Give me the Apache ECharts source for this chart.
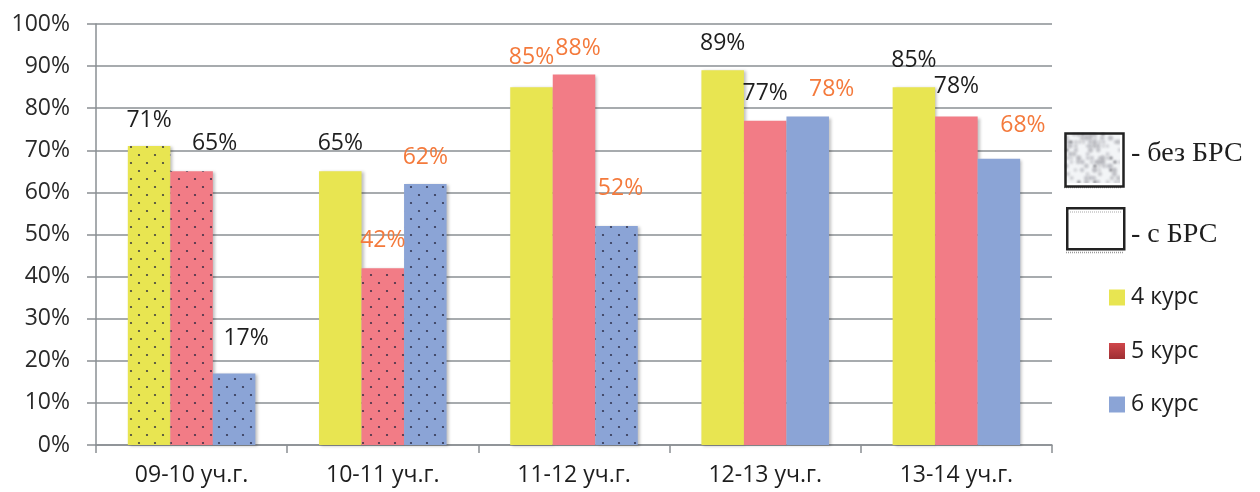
<!DOCTYPE html>
<html>
<head>
<meta charset="utf-8">
<script src="https://cdn.jsdelivr.net/npm/echarts@6/dist/echarts.min.js"></script>
<style>
html,body{margin:0;padding:0;background:#fff;}
#chart{width:1260px;height:492px;}
</style>
</head>
<body>
<div id="chart"></div>
<script>
// ---- data ----
var categories = ['09-10 уч.г.', '10-11 уч.г.', '11-12 уч.г.', '12-13 уч.г.', '13-14 уч.г.'];
var seriesNames = ['4 курс', '5 курс', '6 курс'];
var course4 = [71, 65, 85, 89, 85];
var course5 = [65, 42, 88, 77, 78];
var course6 = [17, 62, 52, 78, 68];
// 1 = dotted pattern ("без БРС")
var dotted4 = [1, 0, 0, 0, 0];
var dotted5 = [1, 1, 0, 0, 0];
var dotted6 = [1, 1, 1, 0, 0];
// 1 = orange label
var orange4 = [0, 0, 1, 0, 0];
var orange5 = [0, 1, 1, 0, 0];
var orange6 = [0, 1, 1, 1, 1];
var yTicks = [0, 10, 20, 30, 40, 50, 60, 70, 80, 90, 100];

// ---- styles ----
var FONT = 'Open Sans';
var barColors = ['#E8E551', '#F27C86', '#8BA4D6'];
var labelShift4 = [[0, 0], [0, -2], [0, -4], [0, -1], [0, -1]];
var labelShift5 = [[23, -2], [0, -2], [4, -1], [0, -2], [0, -5]];
var labelShift6 = [[12, -9], [0, -1], [4, -12], [24, -2], [24, -8]];

// dotted fill: staggered dots, 16px period in a row, rows 8px apart
function dotPattern(bg) {
  var c = document.createElement('canvas');
  c.width = 16; c.height = 16;
  var ctx = c.getContext('2d');
  ctx.fillStyle = bg;
  ctx.fillRect(0, 0, 16, 16);
  ctx.fillStyle = 'rgba(35,35,60,0.85)';
  ctx.beginPath(); ctx.arc(3, 3, 1.1, 0, Math.PI * 2); ctx.fill();
  ctx.beginPath(); ctx.arc(11, 11, 1.1, 0, Math.PI * 2); ctx.fill();
  return { image: c, repeat: 'repeat' };
}

function buildData(values, dotted, orange, shifts, idx) {
  return values.map(function (v, i) {
    var item = {
      value: v,
      label: {
        color: orange[i] ? '#F47A3C' : '#1E1E1E',
        offset: shifts[i]
      }
    };
    if (dotted[i]) item.itemStyle = { color: dotPattern(barColors[idx]) };
    return item;
  });
}

function makeSeries(name, idx, values, dotted, orange, shifts) {
  return {
    name: name,
    type: 'bar',
    barGap: '0%',
    barCategoryGap: '33.3%',
    itemStyle: {
      color: barColors[idx],
      shadowColor: 'rgba(0,0,0,0.25)',
      shadowBlur: 3,
      shadowOffsetX: 2,
      shadowOffsetY: 1
    },
    label: {
      show: true,
      position: 'top',
      distance: 14,
      formatter: '{c}%',
      fontFamily: FONT,
      fontSize: 23
    },
    data: buildData(values, dotted, orange, shifts, idx)
  };
}

// decorative texture for the "без БРС" legend box
function textureURL() {
  var c = document.createElement('canvas');
  c.width = 56; c.height = 51;
  var ctx = c.getContext('2d');
  ctx.fillStyle = '#f3f5f7';
  ctx.fillRect(0, 0, 56, 51);
  ctx.filter = 'blur(1.2px)';
  for (var y = 0; y < 51; y += 4) {
    for (var x = 0; x < 56; x += 4) {
      var h = Math.abs(Math.sin(x * 12.9898 + y * 78.233) * 43758.5453) % 1;
      if (h > 0.45) {
        var dark = h > 0.9;
        var g = dark ? 70 : 150;
        ctx.fillStyle = 'rgba(' + g + ',' + g + ',' + (g + 8) + ',' + (dark ? 0.75 : 0.35 + (h - 0.45) * 0.5) + ')';
        ctx.beginPath();
        ctx.arc(x + 2 + (h * 3 % 2), y + 2, dark ? 1.6 : 1.8 + (h - 0.45) * 2, 0, Math.PI * 2);
        ctx.fill();
      }
    }
  }
  return c.toDataURL();
}

var chart = echarts.init(document.getElementById('chart'), null, { renderer: 'canvas' });

var option = {
  animation: false,
  backgroundColor: '#ffffff',
  grid: { left: 96, right: 208, top: 24, bottom: 47, containLabel: false },
  legend: {
    orient: 'vertical',
    left: 1104,
    top: 281,
    itemWidth: 16,
    itemHeight: 16,
    itemGap: 30.5,
    icon: 'rect',
    textStyle: { fontFamily: FONT, fontSize: 23, color: '#1E1E1E', padding: [0, 0, 0, 1] },
    data: [
      { name: seriesNames[0], itemStyle: { color: '#E8E551' } },
      { name: seriesNames[1], itemStyle: { color: new echarts.graphic.LinearGradient(0, 0, 0, 1, [
        { offset: 0, color: '#D0474B' }, { offset: 1, color: '#9E2F33' }]) } },
      { name: seriesNames[2], itemStyle: { color: '#8BA4D6' } }
    ]
  },
  xAxis: {
    type: 'category',
    data: categories,
    axisLine: { show: true, lineStyle: { color: '#8A8F93', width: 1.5 } },
    axisTick: { show: true, length: 8, alignWithLabel: false, lineStyle: { color: '#8A8F93', width: 1.5 } },
    axisLabel: { margin: 19, fontFamily: FONT, fontSize: 23, color: '#1E1E1E' }
  },
  yAxis: {
    type: 'value',
    min: yTicks[0],
    max: yTicks[yTicks.length - 1],
    interval: yTicks[1] - yTicks[0],
    axisLine: { show: true, lineStyle: { color: '#8A8F93', width: 1.5 } },
    axisTick: { show: true, length: 9, lineStyle: { color: '#8A8F93', width: 1.5 } },
    splitLine: { show: true, lineStyle: { color: '#8A8F93', width: 1.5 } },
    axisLabel: { margin: 26, fontFamily: FONT, fontSize: 23, color: '#2A2A2A', formatter: '{value}%' }
  },
  series: [
    makeSeries(seriesNames[0], 0, course4, dotted4, orange4, labelShift4),
    makeSeries(seriesNames[1], 1, course5, dotted5, orange5, labelShift5),
    makeSeries(seriesNames[2], 2, course6, dotted6, orange6, labelShift6)
  ],
  graphic: [
    { type: 'image', left: 1064, top: 132, z: 10, style: { image: textureURL(), width: 56, height: 51 } },
    { type: 'rect', left: 1063, top: 131, z: 11, shape: { width: 58, height: 53 },
      style: { fill: 'none', stroke: '#222', lineWidth: 2.5 } },
    { type: 'line', z: 10, shape: { x1: 1064, y1: 187.5, x2: 1121, y2: 187.5 },
      style: { stroke: '#9a9a9a', lineWidth: 1.5, lineDash: [1, 1] } },
    { type: 'text', left: 1131, top: 140, z: 10,
      style: { text: '- без БРС', font: '28px "Liberation Serif", "DejaVu Serif", serif', fill: '#1E1E1E' } },

    { type: 'rect', left: 1066, top: 207, z: 11, shape: { width: 57, height: 41 },
      style: { fill: '#fff', stroke: '#222', lineWidth: 2.5 } },
    { type: 'line', z: 12, shape: { x1: 1068, y1: 212, x2: 1121, y2: 212 },
      style: { stroke: '#a8a8a8', lineWidth: 1, lineDash: [1, 1] } },
    { type: 'line', z: 10, shape: { x1: 1066, y1: 252.5, x2: 1123, y2: 252.5 },
      style: { stroke: '#9a9a9a', lineWidth: 1.5, lineDash: [1, 1] } },
    { type: 'text', left: 1131, top: 221, z: 10,
      style: { text: '- с БРС', font: '28px "Liberation Serif", "DejaVu Serif", serif', fill: '#1E1E1E' } }
  ]
};

chart.setOption(option);
</script>
</body>
</html>
